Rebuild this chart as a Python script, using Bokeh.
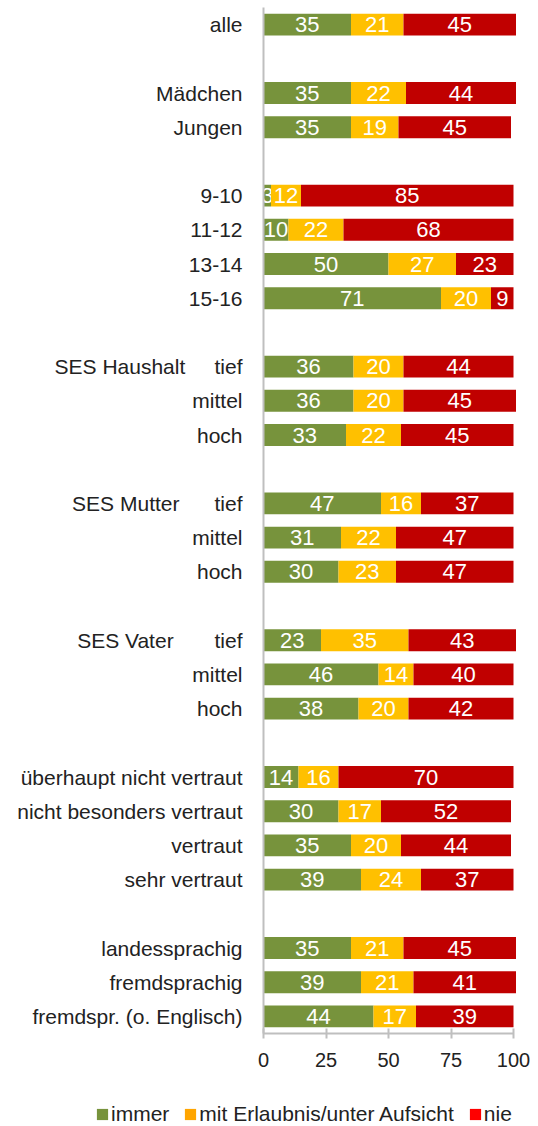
from bokeh.plotting import figure
from bokeh.layouts import column
from bokeh.models import ColumnDataSource, Range1d, FixedTicker, Legend, LegendItem
from bokeh.embed import file_html
from bokeh.resources import INLINE
from bokeh.core.properties import value

# ---- data ----
groups = ["", "", "", "SES Haushalt", "SES Mutter", "SES Vater", "", ""]
group_sizes = [1, 2, 4, 3, 3, 3, 4, 3]
categories = ["alle",
              "Mädchen", "Jungen",
              "9-10", "11-12", "13-14", "15-16",
              "tief", "mittel", "hoch",
              "tief", "mittel", "hoch",
              "tief", "mittel", "hoch",
              "überhaupt nicht vertraut", "nicht besonders vertraut", "vertraut", "sehr vertraut",
              "landessprachig", "fremdsprachig", "fremdspr. (o. Englisch)"]
immer = [35, 35, 35, 3, 10, 50, 71, 36, 36, 33, 47, 31, 30, 23, 46, 38, 14, 30, 35, 39, 35, 39, 44]
erlaubnis = [21, 22, 19, 12, 22, 27, 20, 20, 20, 22, 16, 22, 23, 35, 14, 20, 16, 17, 20, 24, 21, 21, 17]
nie = [45, 44, 45, 85, 68, 23, 9, 44, 45, 45, 37, 47, 47, 43, 40, 42, 70, 52, 44, 37, 45, 41, 39]
series_names = ["immer", "mit Erlaubnis/unter Aufsicht", "nie"]
x_ticks = [0, 25, 50, 75, 100]

# ---- styling ----
bar_colors = ["#77933C", "#FFC000", "#C00000"]
legend_colors = ["#77933C", "#FFA500", "#FF0000"]
title_gap = {"SES Haushalt": 5, "SES Mutter": 6, "SES Vater": 7}
FONT = "Liberation Sans"
TXT = "#222222"
AXIS = "#BFBFBF"

# ---- row positions (one blank row between groups) ----
ypos, labels = [], []
row, k = 0, 0
for g, n in zip(groups, group_sizes):
    for j in range(n):
        lab = categories[k]
        if j == 0 and g:
            lab = g + "\u00a0" * title_gap[g] + lab
        labels.append(lab)
        ypos.append(row)
        row += 1
        k += 1
    row += 1
last_row = ypos[-1]

p = figure(width=538, height=1100, output_backend="svg", toolbar_location=None,
           x_range=Range1d(0, 102), y_range=Range1d(last_row + 0.5, -0.5),
           min_border_left=263, min_border_right=20, min_border_top=7, min_border_bottom=67)
p.outline_line_color = None
p.xgrid.grid_line_color = None
p.ygrid.grid_line_color = None

series = [immer, erlaubnis, nie]
left = [0.0] * len(immer)
for vals, col in zip(series, bar_colors):
    right = [l + v for l, v in zip(left, vals)]
    src = ColumnDataSource(dict(y=ypos, left=left, right=right,
                                xc=[(a + b) / 2 for a, b in zip(left, right)],
                                t=[str(v) for v in vals]))
    p.hbar(y="y", left="left", right="right", height=0.64, fill_color=col,
           line_color=None, source=src)
    p.text(x="xc", y="y", text="t", source=src, text_align="center",
           text_baseline="middle", text_color="white",
           text_font=value(FONT), text_font_size="22px")
    left = right

# y axis
p.yaxis.ticker = FixedTicker(ticks=ypos)
p.yaxis.major_label_overrides = {y: lab for y, lab in zip(ypos, labels)}
p.yaxis.major_tick_line_color = None
p.yaxis.major_tick_out = 0
p.yaxis.major_tick_in = 0
p.yaxis.minor_tick_line_color = None
p.yaxis.axis_line_color = AXIS
p.yaxis.axis_line_width = 2
p.yaxis.major_label_standoff = 21
p.yaxis.major_label_text_font = FONT
p.yaxis.major_label_text_font_size = "21px"
p.yaxis.major_label_text_color = TXT

# x axis
p.xaxis.ticker = FixedTicker(ticks=x_ticks)
p.xaxis.bounds = (0, 100)
p.xaxis.axis_line_color = AXIS
p.xaxis.axis_line_width = 2
p.xaxis.major_tick_line_color = AXIS
p.xaxis.major_tick_line_width = 2
p.xaxis.major_tick_in = 5
p.xaxis.major_tick_out = 5
p.xaxis.minor_tick_line_color = None
p.xaxis.major_label_standoff = 14
p.xaxis.major_label_text_font = FONT
p.xaxis.major_label_text_font_size = "20px"
p.xaxis.major_label_text_color = TXT

# ---- legend strip (own swatch colours) ----
lg = figure(width=538, height=26, output_backend="svg", toolbar_location=None,
            x_range=Range1d(0, 1), y_range=Range1d(0, 1),
            x_axis_type=None, y_axis_type=None, min_border=0)
lg.frame_align = False
lg.outline_line_color = None
lg.xgrid.grid_line_color = None
lg.ygrid.grid_line_color = None
items = []
for name, col in zip(series_names, legend_colors):
    # swatch renderer placed outside the visible range; only its legend entry shows
    r = lg.rect(x=[-5], y=[-5], width=1, height=1, fill_color=col, line_color=None)
    items.append(LegendItem(label=name, renderers=[r]))
legend = Legend(items=items, orientation="horizontal", location=(95, 0),
                glyph_width=14, glyph_height=14, label_standoff=2, spacing=14,
                padding=0, margin=0, border_line_color=None, background_fill_alpha=0,
                label_text_font=FONT, label_text_font_size="21px", label_text_color=TXT)
lg.add_layout(legend)

layout = column(p, lg, spacing=0)
open("out.html", "w").write(file_html(layout, INLINE))
